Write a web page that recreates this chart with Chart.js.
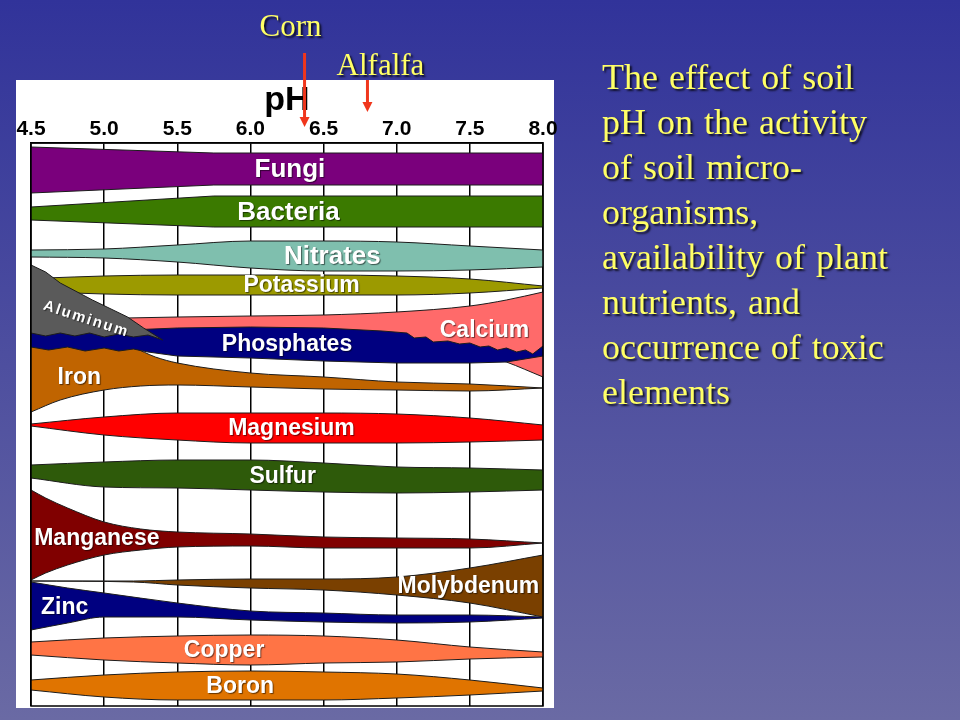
<!DOCTYPE html>
<html>
<head>
<meta charset="utf-8">
<script src="https://cdn.jsdelivr.net/npm/chart.js@4.4.1/dist/chart.umd.min.js"></script>
<style>
  html, body { margin: 0; padding: 0; }
  body {
    width: 960px; height: 720px; overflow: hidden; position: relative;
    background: linear-gradient(to bottom, #31339a 0%, #6a6aa4 100%);
  }
  #panel { position: absolute; left: 16px; top: 80px; width: 538px; height: 628px; background: #fff; }
  #wrap { position: absolute; left: 0; top: 0; width: 960px; height: 720px; }
  #note {
    position: absolute; left: 602px; top: 55px;
    font-family: "Liberation Serif", "Times New Roman", serif;
    font-size: 36px; line-height: 45px; word-spacing: 2px; color: #ffff66; white-space: nowrap;
    text-shadow: 2px 2px 2px rgba(0, 0, 0, 0.75);
  }
</style>
</head>
<body>
<div id="panel"></div>
<div id="wrap"><canvas id="chart" width="960" height="720"></canvas></div>
<div id="note">The effect of soil<br>pH on the activity<br>of soil micro-<br>organisms,<br>availability of plant<br>nutrients, and<br>occurrence of toxic<br>elements</div>
<script>
// pH ticks along the top
const phGrid = [4.5, 5.0, 5.5, 6.0, 6.5, 7.0, 7.5, 8.0];
const cornPH = 6.37;
const alfalfaPH = 6.8;

// band edges, measured downward from the top of the grid
const fungiPH = [4.5, 5.75, 8.0];
const fungiTop = [4, 10, 10];
const fungiBottom = [50, 42, 42];

const bacteriaPH = [4.5, 5.75, 8.0];
const bacteriaTop = [64, 53, 53];
const bacteriaBottom = [77, 84, 84];

const nitratesTop = [107, 106, 102, 98, 98, 99, 103, 107];
const nitratesBottom = [114, 115, 119, 125, 128, 128, 127, 124];

const potassiumPH = [4.6, 5.0, 5.5, 6.0, 6.5, 7.0, 7.5, 8.0];
const potassiumTop = [135, 133, 132, 132, 132, 133, 136, 143];
const potassiumBottom = [149, 151, 152, 152, 152, 152, 150, 145];

const aluminumTopPH = [4.5, 4.6, 4.7, 4.92, 5.16, 5.27, 5.4];
const aluminumTop = [122, 129, 140, 157, 174, 185, 197];
const aluminumBottomPH = [4.5, 4.6, 4.7, 4.8, 4.9, 5.0, 5.1, 5.2, 5.3, 5.4];
const aluminumBottom = [190, 193, 190, 193, 190, 194, 191, 194, 192, 197];

const calciumPH = [5.15, 5.5, 6.0, 6.5, 7.0, 7.5, 7.75, 8.0];
const calciumTop = [175, 174, 173, 172, 169, 163, 157, 149];
const calciumBottom = [191, 191, 190, 191, 195, 207, 219, 234];

const phosphatesTopPH = [4.5, 5.0, 5.5, 6.0, 6.5, 6.9, 7.07, 7.12, 7.2, 7.25, 7.35, 7.43, 7.5, 7.57, 7.63, 7.69, 7.75, 7.82, 7.88, 7.93, 8.0];
const phosphatesTop = [188, 188, 185, 184, 185, 188, 190, 195, 194, 199, 198, 201, 200, 204, 203, 207, 205, 209, 207, 211, 203];
const phosphatesBottomPH = [4.5, 4.62, 4.75, 4.87, 5.0, 5.1, 5.2, 5.3, 5.5, 6.0, 6.5, 7.0, 7.5, 7.75, 8.0];
const phosphatesBottom = [204, 207, 204, 208, 205, 208, 206, 209, 213, 215, 218, 220, 220, 219, 213];

const ironTopPH = [4.5, 5.0, 5.2, 5.35, 5.5, 6.0, 6.5, 7.0, 7.5, 8.0];
const ironTop = [202, 202, 205, 214, 220, 230, 234, 239, 241, 245];
const ironBottomPH = [4.5, 4.7, 5.0, 5.25, 5.5, 6.0, 6.5, 7.0, 7.5, 8.0];
const ironBottom = [269, 257, 247, 243, 242, 244, 246, 247, 248, 245];

const magnesiumTop = [281, 274, 270, 270, 270, 271, 275, 282];
const magnesiumBottom = [283, 292, 297, 300, 300, 300, 299, 297];

const sulfurTop = [322, 319, 317, 317, 320, 324, 325, 327];
const sulfurBottom = [335, 344, 345, 347, 349, 350, 349, 347];

const manganesePH = [4.5, 4.6, 4.75, 5.0, 5.25, 5.5, 6.0, 6.5, 7.0, 7.5, 8.0];
const manganeseTop = [347, 355, 365, 379, 386, 389, 391, 394, 395, 396, 400];
const manganeseBottom = [437, 430, 422, 412, 407, 404, 403, 405, 405, 405, 400];

const molybdenumPH = [4.5, 5.2, 5.5, 6.0, 6.5, 7.0, 7.5, 8.0];
const molybdenumTop = [438, 438, 437, 436, 436, 434, 425, 412];
const molybdenumBottom = [438, 439, 442, 445, 447, 452, 460, 474];

const zincPH = [4.5, 4.75, 5.0, 5.5, 6.0, 6.5, 7.0, 7.5, 8.0];
const zincTop = [439, 445, 450, 460, 468, 470, 472, 472, 474];
const zincBottom = [487, 480, 474, 474, 477, 479, 480, 479, 475];

const copperTop = [499, 495, 493, 492, 493, 497, 504, 509];
const copperBottom = [512, 517, 520, 522, 520, 519, 516, 514];

const boronTop = [537, 532, 529, 528, 529, 531, 537, 545];
const boronBottom = [547, 554, 557, 557, 557, 555, 552, 548];

const gridDepth = 563;

// first in the list is painted on top
const bands = [
  { name: "Aluminum", color: "#5a5a5a", topPH: aluminumTopPH, top: aluminumTop, bottomPH: aluminumBottomPH, bottom: aluminumBottom, labelPH: 4.88, angle: 18, size: 15, spacing: 2, dy: 3, sharp: true },
  { name: "Phosphates", color: "#000080", topPH: phosphatesTopPH, top: phosphatesTop, bottomPH: phosphatesBottomPH, bottom: phosphatesBottom, labelPH: 6.25, sharp: true },
  { name: "Calcium", color: "#ff6a6a", topPH: calciumPH, top: calciumTop, bottomPH: calciumPH, bottom: calciumBottom, labelPH: 7.6 },
  { name: "Potassium", color: "#9c9a00", topPH: potassiumPH, top: potassiumTop, bottomPH: potassiumPH, bottom: potassiumBottom, labelPH: 6.35 },
  { name: "Nitrates", color: "#7fbfae", topPH: phGrid, top: nitratesTop, bottomPH: phGrid, bottom: nitratesBottom, labelPH: 6.56, size: 26 },
  { name: "Bacteria", color: "#3b7a00", topPH: bacteriaPH, top: bacteriaTop, bottomPH: bacteriaPH, bottom: bacteriaBottom, labelPH: 6.26, size: 26, sharp: true },
  { name: "Fungi", color: "#7a007c", topPH: fungiPH, top: fungiTop, bottomPH: fungiPH, bottom: fungiBottom, labelPH: 6.27, size: 26, sharp: true },
  { name: "Iron", color: "#c06400", topPH: ironTopPH, top: ironTop, bottomPH: ironBottomPH, bottom: ironBottom, labelPH: 4.83, dy: 6 },
  { name: "Magnesium", color: "#ff0000", topPH: phGrid, top: magnesiumTop, bottomPH: phGrid, bottom: magnesiumBottom, labelPH: 6.28 },
  { name: "Sulfur", color: "#2e5a0a", topPH: phGrid, top: sulfurTop, bottomPH: phGrid, bottom: sulfurBottom, labelPH: 6.22 },
  { name: "Manganese", color: "#800000", topPH: manganesePH, top: manganeseTop, bottomPH: manganesePH, bottom: manganeseBottom, labelPH: 4.95 },
  { name: "Zinc", color: "#000080", topPH: zincPH, top: zincTop, bottomPH: zincPH, bottom: zincBottom, labelPH: 4.73, dy: 1 },
  { name: "Molybdenum", color: "#7a4000", topPH: molybdenumPH, top: molybdenumTop, bottomPH: molybdenumPH, bottom: molybdenumBottom, labelPH: 7.49 },
  { name: "Copper", color: "#ff7445", topPH: phGrid, top: copperTop, bottomPH: phGrid, bottom: copperBottom, labelPH: 5.82 },
  { name: "Boron", color: "#e07400", topPH: phGrid, top: boronTop, bottomPH: phGrid, bottom: boronBottom, labelPH: 5.93 }
];

function edge(ph, vals) {
  return ph.map((p, i) => ({ x: p, y: vals[i] }));
}

function valueAt(ph, vals, p) {
  for (let i = 0; i < ph.length - 1; i++) {
    if (p >= ph[i] && p <= ph[i + 1]) {
      const t = (p - ph[i]) / (ph[i + 1] - ph[i]);
      return vals[i] + t * (vals[i + 1] - vals[i]);
    }
  }
  return vals[vals.length - 1];
}

const datasets = [];
bands.forEach((b) => {
  const common = {
    borderColor: "#1c1c1c",
    borderWidth: 1,
    pointRadius: 0,
    tension: 0,
    cubicInterpolationMode: b.sharp ? "default" : "monotone"
  };
  datasets.push(Object.assign({ label: b.name + " top", data: edge(b.topPH, b.top), fill: false }, common));
  datasets.push(Object.assign({ label: b.name, data: edge(b.bottomPH, b.bottom), fill: "-1", backgroundColor: b.color }, common));
});

const sansFont = '"Liberation Sans", Arial, sans-serif';
const serifFont = '"Liberation Serif", "Times New Roman", serif';

const bandLabels = {
  id: "bandLabels",
  afterDatasetsDraw(chart) {
    const { ctx, chartArea, scales } = chart;
    ctx.save();
    ctx.strokeStyle = "#000";
    ctx.lineWidth = 1.5;
    ctx.strokeRect(chartArea.left, chartArea.top, chartArea.right - chartArea.left, chartArea.bottom - chartArea.top);

    bands.forEach((b) => {
      const mid = (valueAt(b.topPH, b.top, b.labelPH) + valueAt(b.bottomPH, b.bottom, b.labelPH)) / 2;
      const x = scales.x.getPixelForValue(b.labelPH);
      const y = scales.y.getPixelForValue(mid) + (b.dy || 0);
      ctx.save();
      ctx.translate(x, y);
      ctx.rotate(((b.angle || 0) * Math.PI) / 180);
      ctx.font = "bold " + (b.size || 23) + "px " + sansFont;
      ctx.letterSpacing = (b.spacing || 0) + "px";
      ctx.textAlign = "center";
      ctx.textBaseline = "middle";
      ctx.shadowColor = "rgba(0,0,0,0.55)";
      ctx.shadowOffsetX = 1;
      ctx.shadowOffsetY = 1;
      ctx.shadowBlur = 1;
      ctx.fillStyle = "#ffffff";
      ctx.fillText(b.name, 0, 1);
      ctx.restore();
    });
    ctx.restore();
  }
};

function drawArrow(ctx, x, y0, y1) {
  ctx.strokeStyle = "#f0361c";
  ctx.fillStyle = "#f0361c";
  ctx.lineWidth = 3;
  ctx.beginPath();
  ctx.moveTo(x, y0);
  ctx.lineTo(x, y1 - 8);
  ctx.stroke();
  ctx.beginPath();
  ctx.moveTo(x - 5, y1 - 10);
  ctx.lineTo(x + 5, y1 - 10);
  ctx.lineTo(x, y1);
  ctx.closePath();
  ctx.fill();
}

const cropMarks = {
  id: "cropMarks",
  afterDraw(chart) {
    const { ctx, scales } = chart;
    const cx = scales.x.getPixelForValue(cornPH);
    const ax = scales.x.getPixelForValue(alfalfaPH);
    ctx.save();
    drawArrow(ctx, cx, 53, 127);
    drawArrow(ctx, ax, 80, 112);
    ctx.font = "31px " + serifFont;
    ctx.textAlign = "center";
    ctx.textBaseline = "alphabetic";
    ctx.shadowColor = "rgba(0,0,0,0.75)";
    ctx.shadowOffsetX = 2;
    ctx.shadowOffsetY = 2;
    ctx.shadowBlur = 2;
    ctx.fillStyle = "#ffff66";
    ctx.fillText("Corn", cx - 14, 36);
    ctx.fillText("Alfalfa", ax + 13, 75);
    ctx.restore();
  }
};

new Chart(document.getElementById("chart"), {
  type: "line",
  data: { datasets: datasets },
  options: {
    responsive: false,
    animation: false,
    events: [],
    layout: { padding: { left: 31, right: 417, top: 80, bottom: 14 } },
    plugins: {
      legend: { display: false },
      tooltip: { enabled: false },
      filler: { propagate: false }
    },
    scales: {
      x: {
        type: "linear",
        position: "top",
        min: 4.5,
        max: 8.0,
        afterBuildTicks: (scale) => {
          scale.ticks = phGrid.map((v) => ({ value: v }));
        },
        afterFit: (scale) => {
          scale.height = 63;
        },
        ticks: {
          padding: 1,
          color: "#000",
          font: { family: sansFont, size: 21, weight: "bold" },
          callback: (v) => Number(v).toFixed(1)
        },
        grid: { color: "#000", lineWidth: 1.5, drawTicks: false },
        border: { display: true, color: "#000", width: 1.5 },
        title: {
          display: true,
          text: "pH",
          color: "#000",
          padding: { top: 0, bottom: 0 },
          font: { family: sansFont, size: 34, weight: "bold" }
        }
      },
      y: {
        type: "linear",
        display: false,
        reverse: true,
        min: 0,
        max: gridDepth
      }
    }
  },
  plugins: [bandLabels, cropMarks]
});
</script>
</body>
</html>
